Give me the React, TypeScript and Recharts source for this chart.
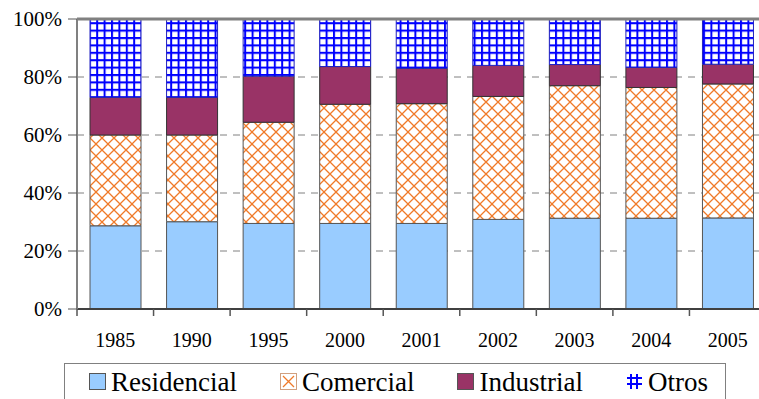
import { BarChart, Bar, XAxis, YAxis, CartesianGrid, ReferenceLine } from 'recharts';

const years = ['1985', '1990', '1995', '2000', '2001', '2002', '2003', '2004', '2005'];
const residencial = [28.7, 30.1, 29.5, 29.5, 29.5, 30.9, 31.3, 31.3, 31.4];
const comercial = [31.3, 29.9, 34.9, 41.1, 41.3, 42.4, 45.7, 45.1, 46.2];
const industrial = [13.0, 13.0, 15.9, 13.0, 12.2, 10.7, 7.3, 6.9, 6.8];
const otros = [27.0, 27.0, 19.7, 16.4, 17.0, 16.0, 15.7, 16.7, 15.6];
const yTicks = [0, 0.2, 0.4, 0.6, 0.8, 1];

const data = years.map((year, i) => ({
  year,
  Residencial: residencial[i],
  Comercial: comercial[i],
  Industrial: industrial[i],
  Otros: otros[i],
}));

const FONT = "'Liberation Serif', 'Times New Roman', serif";

const XTick = (props: any) => {
  const { x, y, payload, width, visibleTicksCount } = props;
  const half = payload.offset || width / visibleTicksCount / 2;
  return (
    <g>
      <line x1={x - half} x2={x - half} y1={y} y2={y + 7} stroke="#555" strokeWidth={1.5} />
      <text x={x} y={y + 38} textAnchor="middle" fontFamily={FONT} style={{ fontFamily: FONT }} fontSize={20} fill="#000">
        {payload.value}
      </text>
    </g>
  );
};

const YTick = (props: any) => {
  const { x, y, payload } = props;
  return (
    <text x={x} y={y} dy={7} textAnchor="end" fontFamily={FONT} style={{ fontFamily: FONT }} fontSize={21} fill="#000">
      {`${Math.round(payload.value * 100)}%`}
    </text>
  );
};

const LegendIcon = ({ kind }: { kind: string }) => {
  let fill = '#99CCFF';
  if (kind === 'Comercial') fill = 'url(#legCross)';
  if (kind === 'Industrial') fill = '#993366';
  if (kind === 'Otros') fill = 'url(#legGrid)';
  return (
    <svg width={17} height={17} style={{ marginTop: 4, marginRight: 5, flex: 'none' }}>
      <rect x={0.5} y={0.5} width={16} height={16} fill={fill}
        stroke={kind === 'Otros' ? 'none' : kind === 'Comercial' ? '#D0A080' : '#555'} strokeWidth={1} />
    </svg>
  );
};

const legendItems = ['Residencial', 'Comercial', 'Industrial', 'Otros'];

export default function App() {
  return (
    <div style={{ position: 'absolute', left: 0, top: 0, width: 759, height: 399, overflow: 'hidden', background: '#fff', fontFamily: FONT }}>
      <svg width={0} height={0} style={{ position: 'absolute' }}>
        <defs>
          <pattern id="crossPat" patternUnits="userSpaceOnUse" width={12} height={12}>
            <rect width={12} height={12} fill="#fff" />
            <path d="M0,0 L12,12 M12,0 L0,12" stroke="#F07A28" strokeWidth={1.3} />
          </pattern>
          <pattern id="gridPat" patternUnits="userSpaceOnUse" width={7.4} height={7.4}>
            <rect width={7.4} height={7.4} fill="#fff" />
            <path d="M1,0 L1,7.4 M0,1 L7.4,1" stroke="#0000FF" strokeWidth={2} />
          </pattern>
          <pattern id="legCross" patternUnits="userSpaceOnUse" width={17} height={17}>
            <rect width={17} height={17} fill="#fff" />
            <path d="M3,3 L14,14 M14,3 L3,14" stroke="#F07A28" strokeWidth={1.3} />
          </pattern>
          <pattern id="legGrid" patternUnits="userSpaceOnUse" width={17} height={17}>
            <rect width={17} height={17} fill="#fff" />
            <path d="M5,1 L5,16 M11,1 L11,16 M1,5 L16,5 M1,11 L16,11" stroke="#0000FF" strokeWidth={2} />
          </pattern>
        </defs>
      </svg>
      <BarChart
        width={766}
        height={399}
        data={data}
        stackOffset="expand"
        barCategoryGap="17%"
        margin={{ top: 19, right: 0, left: 0, bottom: 50 }}
      >
        <CartesianGrid vertical={false} stroke="#808080" strokeDasharray="7 6" />
        <XAxis
          dataKey="year"
          height={40}
          tickLine={false}
          tickSize={0}
          tickMargin={0}
          interval={0}
          axisLine={{ stroke: '#404040', strokeWidth: 2 }}
          tick={<XTick />}
        />
        <YAxis
          width={77}
          domain={[0, 1]}
          ticks={yTicks}
          tickSize={9}
          tickMargin={6}
          axisLine={{ stroke: '#808080', strokeWidth: 2 }}
          tickLine={{ stroke: '#555' }}
          tick={<YTick />}
        />
        <Bar dataKey="Residencial" stackId="a" fill="#99CCFF" stroke="#555" strokeWidth={1} isAnimationActive={false} />
        <Bar dataKey="Comercial" stackId="a" fill="url(#crossPat)" stroke="#555" strokeWidth={1} isAnimationActive={false} />
        <Bar dataKey="Industrial" stackId="a" fill="#993366" stroke="#333" strokeWidth={1} isAnimationActive={false} />
        <Bar dataKey="Otros" stackId="a" fill="url(#gridPat)" stroke="#2020C0" strokeWidth={1} isAnimationActive={false} />
        <ReferenceLine y={1} stroke="#808080" strokeWidth={3} />
      </BarChart>
      <div
        style={{
          position: 'absolute',
          left: 64,
          top: 363,
          width: 662,
          height: 50,
          border: '1px solid #808080',
          boxSizing: 'border-box',
          display: 'flex',
          alignItems: 'flex-start',
          paddingLeft: 24,
          paddingTop: 5,
          gap: 43,
        }}
      >
        {legendItems.map((name) => (
          <div key={name} style={{ display: 'flex', alignItems: 'flex-start' }}>
            <LegendIcon kind={name} />
            <span style={{ fontFamily: FONT, fontSize: 27, lineHeight: '27px', color: '#000', whiteSpace: 'nowrap' }}>{name}</span>
          </div>
        ))}
      </div>
    </div>
  );
}
